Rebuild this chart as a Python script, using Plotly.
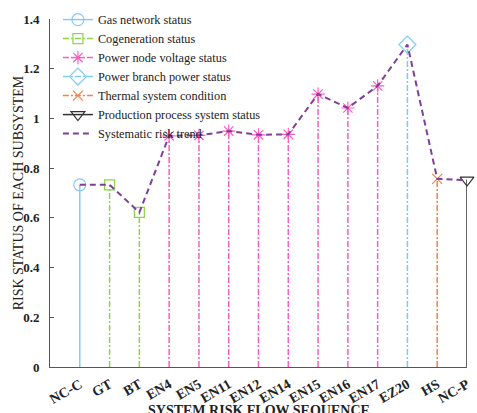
import plotly.graph_objects as go

categories = ["NC-C", "GT", "BT", "EN4", "EN5", "EN11", "EN12", "EN14",
              "EN15", "EN16", "EN17", "EZ20", "HS", "NC-P"]
risk_values = [0.733, 0.733, 0.622, 0.930, 0.932, 0.949, 0.934, 0.936,
               1.098, 1.042, 1.131, 1.297, 0.757, 0.752]

# subsystem groups: (name, category names, color, marker symbol, marker size, dash)
groups = [
    ("Gas network status", ["NC-C"], "#8CC8F2", "circle-open", 12, "solid"),
    ("Cogeneration status", ["GT", "BT"], "#8ED44E", "square-open", 10, "6px,2px,2px,2px"),
    ("Power node voltage status", ["EN4", "EN5", "EN11", "EN12", "EN14", "EN15", "EN16", "EN17"],
     "#FF5CC0", "asterisk-open", 11, "6px,2px,2px,2px"),
    ("Power branch power status", ["EZ20"], "#7DCCF0", "diamond-open", 13, "6px,2px,2px,2px"),
    ("Thermal system condition", ["HS"], "#F0834E", "x-thin-open", 10, "6px,2px,2px,2px"),
    ("Production process system status", ["NC-P"], "#333333", "triangle-down-open", 12, "solid"),
]

xpos = list(range(1, len(categories) + 1))
val = dict(zip(categories, risk_values))
pos = dict(zip(categories, xpos))

fig = go.Figure()

# stems
for name, cats, color, sym, size, dash in groups:
    xs, ys = [], []
    for c in cats:
        xs += [pos[c], pos[c], None]
        ys += [0, val[c], None]
    fig.add_trace(go.Scatter(x=xs, y=ys, mode="lines", showlegend=False,
                             legendgroup=name, hoverinfo="skip",
                             line=dict(color=color, width=1.5, dash=dash),
                             cliponaxis=False))

# markers (with legend entries)
for name, cats, color, sym, size, dash in groups:
    xs, ys = [], []
    for c in cats:
        xs += [pos[c], None]
        ys += [val[c], None]
    fig.add_trace(go.Scatter(x=xs, y=ys, mode="lines+markers", name=name,
                             legendgroup=name, connectgaps=False,
                             line=dict(color=color, width=1.5, dash=dash),
                             marker=dict(symbol=sym, size=size, color=color,
                                         line=dict(color=color, width=1.2)),
                             cliponaxis=False))

# trend
fig.add_trace(go.Scatter(x=xpos, y=risk_values, mode="lines",
                         name="Systematic risk trend",
                         line=dict(color="#7E3F98", width=2, dash="6px,4px"),
                         cliponaxis=False))

serif = "Liberation Serif"
fig.update_layout(
    width=477, height=413,
    margin=dict(l=50, r=5, t=15, b=46),
    paper_bgcolor="white", plot_bgcolor="white",
    font=dict(family=serif, color="#222"),
    legend=dict(x=0.019, y=1.04, xanchor="left", yanchor="top",
                bgcolor="rgba(0,0,0,0)", font=dict(family=serif, size=12.3, color="#222"),
                tracegroupgap=0),
    xaxis=dict(range=[0, 14], tickvals=xpos, ticktext=categories, tickangle=-30,
               showgrid=False, zeroline=False, showline=True, linecolor="#555",
               linewidth=1, ticks="", ticklabelstandoff=3, ticklabeloverflow="allow",
               tickfont=dict(family=serif, size=14, weight="bold", color="#222")),
    yaxis=dict(range=[0, 1.4], tickvals=[0, 0.2, 0.4, 0.6, 0.8, 1, 1.2, 1.4],
               ticktext=["0", "0.2", "0.4", "0.6", "0.8", "1", "1.2", "1.4"],
               showgrid=False, zeroline=False, showline=True, linecolor="#555",
               linewidth=1, ticks="inside", ticklen=4, tickcolor="#555",
               ticklabelstandoff=7, ticklabeloverflow="allow",
               tickfont=dict(family=serif, size=13, weight="bold", color="#222")),
    annotations=[
        dict(text="<b>SYSTEM RISK FLOW SEQUENCE</b>", xref="paper", yref="paper",
             x=0.5, y=-0.097, xanchor="center", yanchor="top", showarrow=False,
             font=dict(family=serif, size=14, color="#222")),
        dict(text="RISK STATUS OF EACH SUBSYSTEM", xref="paper", yref="paper",
             x=-0.076, y=0.5, xanchor="center", yanchor="middle", textangle=-90,
             showarrow=False, font=dict(family=serif, size=14, color="#222")),
    ],
)

fig.write_html("out.html")
